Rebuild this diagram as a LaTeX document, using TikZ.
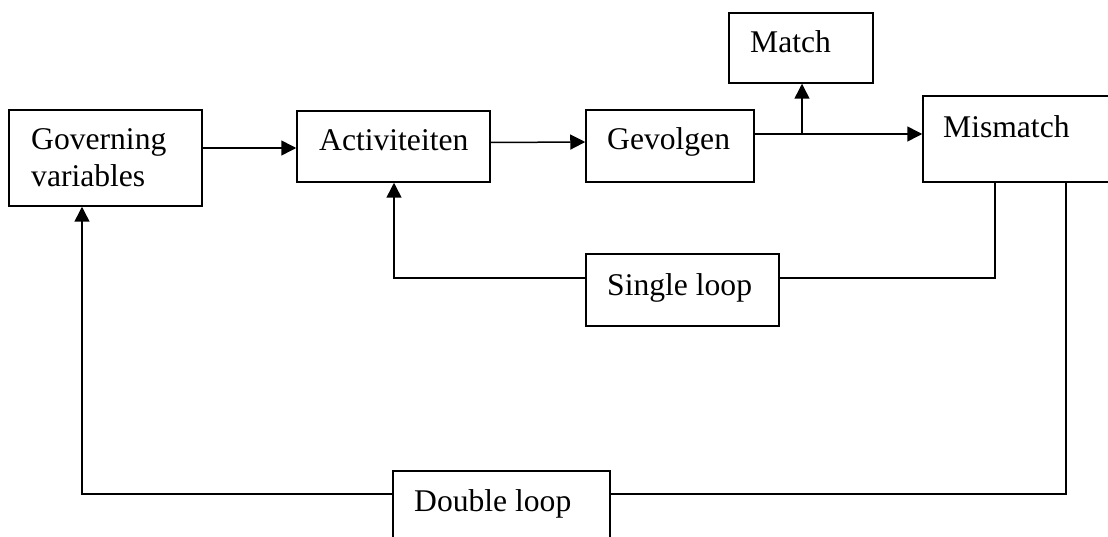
\documentclass[tikz,border=0pt]{standalone}
\usepackage{fontspec}
\setmainfont{Liberation Serif}
\usetikzlibrary{arrows.meta,fit}
\begin{document}
\begin{tikzpicture}[x=1pt,y=-1pt,
  box/.style={draw,line width=1.5pt,inner sep=0pt},
  txt/.style={inner sep=0pt,anchor=base west,font=\fontsize{31.6}{37}\selectfont},
  conn/.style={line width=1.5pt},
  arr/.style={conn,-{Triangle[length=15pt,width=15pt]}}]
\useasboundingbox (0,0) rectangle (1108,537);
\clip (0,0) rectangle (1108,537);
\node[box,fit={(9,110) (202,206)}] (gov) {};
\node[box,fit={(297,111) (490,182)}] (act) {};
\node[box,fit={(586,110) (754,182)}] (gev) {};
\node[box,fit={(729,13) (873,83)}] (match) {};
\node[box,fit={(923,96) (1125,182)}] (mis) {};
\node[box,fit={(586,254) (779,326)}] (sl) {};
\node[box,fit={(393,471) (610,560)}] (dl) {};
\node[txt] (govA) at (31,150) {Governing};
\node[txt] (govB) at (31,187) {variables};
\node[txt] (actT) at (319,151) {Activiteiten};
\node[txt] (gevT) at (607,150) {Gevolgen};
\node[txt] (matchT) at (750,53) {Match};
\node[txt] (misT) at (943,138) {Mismatch};
\node[txt] (slT) at (607,295) {Single loop};
\node[txt] (dlT) at (414,511) {Double loop};
\coordinate (br) at (802,134);
\coordinate (slL) at (394,278);
\coordinate (slR) at (995,278);
\coordinate (dlL) at (82,494);
\coordinate (dlR) at (1066,494);
\draw[arr] (gov.east |- 0,148) -- (act.west |- 0,148);
\draw[arr] ([yshift=4pt]act.east) -- ([yshift=4pt]gev.west);
\draw[arr] (gev.east |- br) -- (mis.west |- br);
\draw[arr] (br) -- (br |- match.south);
\draw[arr] (sl.west |- slL) -- (slL) -- (slL |- act.south);
\draw[conn] (sl.east |- slR) -- (slR) -- (slR |- mis.south);
\draw[arr] (dl.west |- dlL) -- (dlL) -- (dlL |- gov.south);
\draw[conn] (dl.east |- dlR) -- (dlR) -- (dlR |- mis.south);
\end{tikzpicture}
\end{document}
